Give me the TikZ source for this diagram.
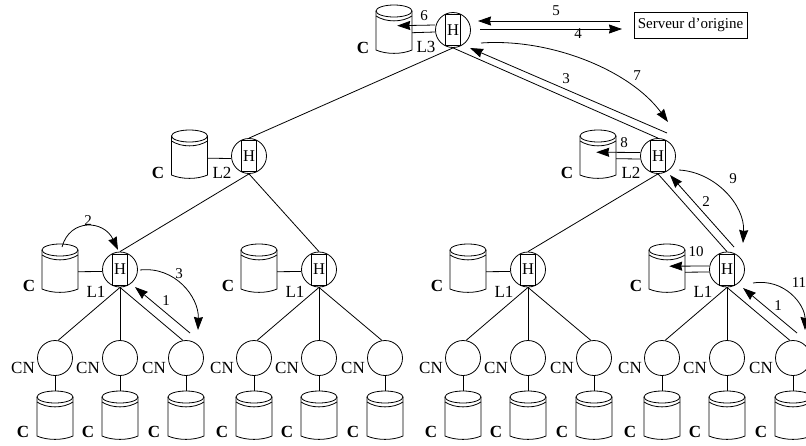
\documentclass[tikz,border=0pt]{standalone}
\usepackage{fontspec}
\setmainfont{Liberation Serif}
\usetikzlibrary{arrows.meta,calc}
\tikzset{
  ln/.style={line width=0.8pt,black},
  arr/.style={ln,-{Stealth[length=13pt,width=9pt,inset=1pt]}},
  hcirc/.style={circle,draw,line width=0.8pt,minimum size=35pt,inner sep=0pt},
  hbox/.style={rectangle,draw,line width=0.8pt,minimum width=15pt,minimum height=31pt,inner sep=0pt,font=\fontsize{16.5}{16.5}\selectfont},
  cncirc/.style={circle,draw,line width=0.8pt,minimum size=35pt,inner sep=0pt},
  srv/.style={rectangle,draw,line width=0.8pt,minimum width=113pt,minimum height=26pt,inner sep=0pt,font=\fontsize{15}{15}\selectfont},
  txt/.style={inner sep=0pt,font=\fontsize{15}{15}\selectfont},
  lev/.style={inner sep=0pt,font=\fontsize{17}{17}\selectfont},
  bigc/.style={inner sep=0pt,font=\fontsize{17}{17}\selectfont\bfseries},
  cylbb/.style={rectangle,minimum width=36pt,minimum height=51pt,inner sep=0pt}
}
\newcommand{\cyl}[3]{% name, center x, top y
  \node[cylbb,anchor=north] (#1) at (#2,#3) {};
  \draw[ln] (#2,#3+6) ellipse [x radius=18,y radius=6];
  \draw[ln] (#2-18,#3+6) -- (#2-18,#3+45) .. controls (#2-8,#3+49.5) and (#2+8,#3+49.5) .. (#2+18,#3+45) -- (#2+18,#3+6);
  \draw[ln] (#2-18,#3+11) .. controls (#2-8,#3+17.5) and (#2+8,#3+17.5) .. (#2+18,#3+11);
}
\newcommand{\hn}[3]{% name, x, y
  \node[hcirc] (#1) at (#2,#3) {};
  \node[hbox] (#1b) at (#2,#3) {H};
}
\newcommand{\lab}[5]{\node[#1] (#2) at (#3,#4) {#5};}
\newcommand{\family}[2]{% prefix, H x
  \pgfmathsetmacro{\xa}{#2-65}\pgfmathsetmacro{\xc}{#2+66}
  \node[cncirc] (f#1a) at (\xa,358) {};
  \node[cncirc] (f#1m) at (#2,358) {};
  \node[cncirc] (f#1c) at (\xc,358) {};
  \cyl{k#1a}{\xa}{391}\cyl{k#1m}{#2}{391}\cyl{k#1c}{\xc}{391}
  \draw[ln] (f#1a.south) -- (k#1a.north);
  \draw[ln] (f#1m.south) -- (k#1m.north);
  \draw[ln] (f#1c.south) -- (k#1c.north);
  \draw[ln] (#1.south) -- (f#1a.80);
  \draw[ln] (#1.south) -- (f#1m.north);
  \draw[ln] (#1.south) -- (f#1c.100);
  \pgfmathsetmacro{\la}{\xa-32}\pgfmathsetmacro{\lb}{#2-32}\pgfmathsetmacro{\lc}{\xc-32}
  \lab{lev}{t#1la}{\la}{368}{CN}\lab{lev}{t#1lm}{\lb}{368}{CN}\lab{lev}{t#1lc}{\lc}{368}{CN}
  \lab{bigc}{t#1ba}{\la}{432}{C}\lab{bigc}{t#1bm}{\lb}{432}{C}\lab{bigc}{t#1bc}{\lc}{432}{C}
}
\begin{document}
\begin{tikzpicture}[x=1pt,y=-1pt]
\useasboundingbox (0,0) rectangle (806,445);
\clip (0,0) rectangle (806,445);
% hubs
\hn{r}{453}{30}
\hn{ll}{249}{156}
\hn{lr}{658}{156}
\hn{a}{120}{269.5}
\hn{b}{319}{269.5}
\hn{c}{528}{269.5}
\hn{d}{727}{269.5}
% caches
\cyl{kr}{394}{5}
\cyl{kll}{189.5}{130}
\cyl{klr}{598}{130}
\cyl{ka}{60}{244}
\cyl{kb}{259}{244}
\cyl{kc}{468}{244}
\cyl{kd}{667}{244}
% families
\family{a}{120}\family{b}{319}\family{c}{528}\family{d}{727}
% server
\node[srv] (s) at (690.5,25) {Serveur d'origine};
% free ends
\coordinate (e5) at (620,21);
\coordinate (t5) at (478,21);
\coordinate (s4) at (480,29);
\coordinate (e4) at (622,29);
\coordinate (s7) at (481,43);
\coordinate (t7) at (668,122);
\coordinate (s3) at (667,133);
\coordinate (t3) at (470,48);
\coordinate (s9) at (679,170);
\coordinate (t9) at (743,243);
\coordinate (s2) at (734,247);
\coordinate (t2) at (670,175);
\coordinate (s1a) at (190,333);
\coordinate (t1a) at (135,287);
\coordinate (s3a) at (140,270);
\coordinate (t3a) at (198,330);
\coordinate (s2a) at (62,247);
\coordinate (t2a) at (118,250);
\coordinate (s1d) at (797,333);
\coordinate (t1d) at (743,288);
\coordinate (s11) at (753,283);
\coordinate (t11) at (805,330);
% tree links
\draw[ln] (r.south) -- (ll.north);
\draw[ln] (r.south) -- (lr.north);
\draw[ln] (ll.south) -- (a.north);
\draw[ln] (ll.south) -- (b.north);
\draw[ln] (lr.south) -- (c.north);
\draw[ln] (lr.south) -- (d.north);
% cache links
\draw[ln] ([yshift=-2pt]kr.east) -- ([yshift=-2pt]r.west);
\draw[arr] ([yshift=5pt]r.west) -- ([yshift=5pt,xshift=-15pt]kr.east);
\draw[ln] ([yshift=-2.5pt]kll.east) -- ([yshift=-2.5pt]ll.west);
\draw[ln] ([yshift=-3pt]klr.east) -- ([yshift=-3pt]lr.west);
\draw[arr] ([yshift=3.5pt]lr.west) -- ([yshift=3.5pt,xshift=-20pt]klr.east);
\draw[ln] ([yshift=-2pt]ka.east) -- ([yshift=-2pt]a.west);
\draw[ln] ([yshift=-2pt]kb.east) -- ([yshift=-2pt]b.west);
\draw[ln] ([yshift=-2pt]kc.east) -- ([yshift=-2pt]c.west);
\draw[ln] ([yshift=-2.5pt]kd.east) -- ([yshift=-2.5pt]d.west);
\draw[arr] ([yshift=3.5pt]d.west) -- ([yshift=3.5pt,xshift=-16pt]kd.east);
% flows
\draw[arr] (e5) -- (t5);
\draw[arr] (s4) -- (e4);
\draw[arr] (s3) -- (t3);
\draw[arr] (s7) .. controls (550,38) and (630,70) .. (t7);
\draw[arr] (s9) .. controls (715,172) and (745,205) .. (t9);
\draw[arr] (s2) -- (t2);
\draw[arr] (s1a) -- (t1a);
\draw[arr] (s3a) .. controls (175,266) and (199,297) .. (t3a);
\draw[arr] (s2a) .. controls (70,218) and (104,220) .. (t2a);
\draw[arr] (s1d) -- (t1d);
\draw[arr] (s11) .. controls (785,278) and (805,305) .. (t11);
% labels
\lab{txt}{n6}{424}{16}{6}
\lab{txt}{n5}{556}{11}{5}
\lab{txt}{n4}{578}{34}{4}
\lab{txt}{n3}{566}{79}{3}
\lab{txt}{n7}{637}{76}{7}
\lab{txt}{n8}{624}{143}{8}
\lab{txt}{n9}{733}{179}{9}
\lab{txt}{n2}{706}{202}{2}
\lab{txt}{n10}{696}{252}{10}
\lab{txt}{n11}{799}{283}{11}
\lab{txt}{n1d}{778}{306}{1}
\lab{txt}{n2a}{88}{221}{2}
\lab{txt}{n3a}{179}{274}{3}
\lab{txt}{n1a}{166}{301}{1}
\lab{lev}{l3}{426}{47}{L3}
\lab{lev}{l2l}{222}{173}{L2}
\lab{lev}{l2r}{631}{173}{L2}
\lab{lev}{l1a}{96}{292}{L1}
\lab{lev}{l1b}{295}{292}{L1}
\lab{lev}{l1c}{504}{292}{L1}
\lab{lev}{l1d}{703}{292}{L1}
\lab{bigc}{cl3}{363}{48}{C}
\lab{bigc}{cl2l}{158}{173}{C}
\lab{bigc}{cl2r}{567}{173}{C}
\lab{bigc}{cl1a}{29}{286}{C}
\lab{bigc}{cl1b}{228}{286}{C}
\lab{bigc}{cl1c}{437}{286}{C}
\lab{bigc}{cl1d}{636}{286}{C}
\end{tikzpicture}
\end{document}
